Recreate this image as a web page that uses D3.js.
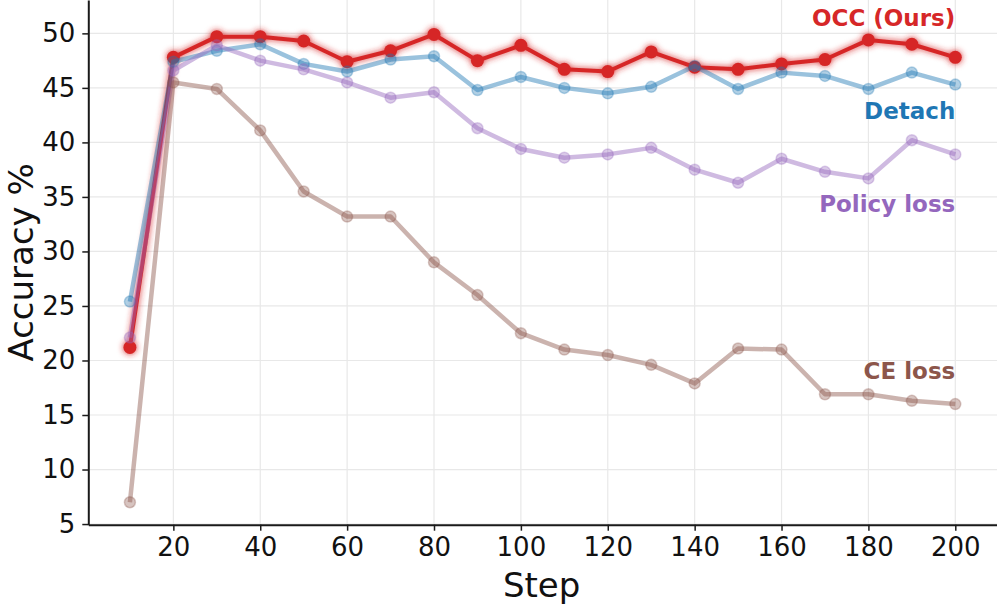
<!DOCTYPE html>
<html>
<head>
<meta charset="utf-8">
<script src="https://cdn.jsdelivr.net/npm/d3@7"></script>
<style>
  body { margin: 0; background: #fff; }
  svg { display: block; font-family: "DejaVu Sans", sans-serif; }
</style>
</head>
<body>
<div id="chart"></div>
<script>
// Data
const steps = [10, 20, 30, 40, 50, 60, 70, 80, 90, 100, 110, 120, 130, 140, 150, 160, 170, 180, 190, 200];
const occ = [21.2, 47.8, 49.7, 49.7, 49.3, 47.4, 48.4, 49.9, 47.5, 48.9, 46.7, 46.5, 48.3, 46.9, 46.7, 47.2, 47.6, 49.4, 49.0, 47.8];
const detach = [25.4, 47.4, 48.4, 49.0, 47.2, 46.5, 47.6, 47.9, 44.8, 46.0, 45.0, 44.5, 45.1, 47.0, 44.9, 46.4, 46.1, 44.9, 46.4, 45.3];
const policyLoss = [22.1, 46.6, 48.9, 47.5, 46.7, 45.5, 44.1, 44.6, 41.3, 39.4, 38.6, 38.9, 39.5, 37.5, 36.3, 38.5, 37.3, 36.7, 40.2, 38.9];
const ceLoss = [7.0, 45.5, 44.9, 41.1, 35.5, 33.2, 33.2, 29.0, 26.0, 22.5, 21.0, 20.5, 19.6, 17.9, 21.1, 21.0, 16.9, 16.9, 16.3, 16.0];
const xTicks = [20, 40, 60, 80, 100, 120, 140, 160, 180, 200];
const yTicks = [5, 10, 15, 20, 25, 30, 35, 40, 45, 50];
const seriesNames = ["OCC (Ours)", "Detach", "Policy loss", "CE loss"];

const width = 997;
const height = 606;
const margin = { top: 0, right: 0, bottom: 81.3, left: 88.3 };

const x = d3.scaleLinear()
  .domain([0.42, 209.6])
  .range([margin.left, width - margin.right]);

const y = d3.scaleLinear()
  .domain([4.94, 53.06])
  .range([height - margin.bottom, margin.top]);

const svg = d3.select("#chart")
  .append("svg")
  .attr("width", width)
  .attr("height", height);

// glow for the main series
const defs = svg.append("defs");
const glow = defs.append("filter")
  .attr("id", "glow")
  .attr("x", "-10%").attr("y", "-10%")
  .attr("width", "120%").attr("height", "120%");
glow.append("feGaussianBlur")
  .attr("in", "SourceGraphic")
  .attr("stdDeviation", 3)
  .attr("result", "blur");
const merge = glow.append("feMerge");
merge.append("feMergeNode").attr("in", "blur");
merge.append("feMergeNode").attr("in", "SourceGraphic");

// grid
const plotBottom = height - margin.bottom;
svg.append("g")
  .selectAll("line")
  .data(xTicks)
  .join("line")
  .attr("x1", d => x(d)).attr("x2", d => x(d))
  .attr("y1", margin.top).attr("y2", plotBottom)
  .attr("stroke", "#e8e8e8").attr("stroke-width", 1.2);

svg.append("g")
  .selectAll("line")
  .data(yTicks)
  .join("line")
  .attr("x1", margin.left).attr("x2", width - margin.right)
  .attr("y1", d => y(d)).attr("y2", d => y(d))
  .attr("stroke", "#e8e8e8").attr("stroke-width", 1.2);

// series
const line = d3.line()
  .x((d, i) => x(steps[i]))
  .y(d => y(d));

const faded = [
  { values: detach, color: "#1f77b4" },
  { values: policyLoss, color: "#9467bd" },
  { values: ceLoss, color: "#8c564b" }
];

// main series first
const occG = svg.append("g").attr("filter", "url(#glow)");
occG.append("path")
  .datum(occ)
  .attr("d", line)
  .attr("fill", "none")
  .attr("stroke", "#d62728")
  .attr("stroke-width", 4)
  .attr("stroke-linejoin", "round");
occG.selectAll("circle")
  .data(occ)
  .join("circle")
  .attr("cx", (d, i) => x(steps[i]))
  .attr("cy", d => y(d))
  .attr("r", 6.5)
  .attr("fill", "#d62728");

faded.forEach(s => {
  const g = svg.append("g");
  g.append("path")
    .datum(s.values)
    .attr("d", line)
    .attr("fill", "none")
    .attr("stroke", s.color)
    .attr("stroke-opacity", 0.45)
    .attr("stroke-width", 4.5)
    .attr("stroke-linejoin", "round");
  g.selectAll("circle")
    .data(s.values)
    .join("circle")
    .attr("cx", (d, i) => x(steps[i]))
    .attr("cy", d => y(d))
    .attr("r", 5.5)
    .attr("fill", s.color)
    .attr("fill-opacity", 0.35)
    .attr("stroke", s.color)
    .attr("stroke-opacity", 0.3)
    .attr("stroke-width", 1.5);
});

// axes
const xAxis = svg.append("g")
  .attr("transform", `translate(0, ${plotBottom})`)
  .call(d3.axisBottom(x).tickValues(xTicks).tickSize(6).tickPadding(7).tickSizeOuter(0));

const yAxis = svg.append("g")
  .attr("transform", `translate(${margin.left}, 0)`)
  .call(d3.axisLeft(y).tickValues(yTicks).tickSize(6).tickPadding(7).tickSizeOuter(0));

[xAxis, yAxis].forEach(a => {
  a.select(".domain").attr("stroke", "#1a1a1a").attr("stroke-width", 2);
  a.selectAll(".tick line").attr("stroke", "#1a1a1a").attr("stroke-width", 1.5);
  a.selectAll(".tick text")
    .attr("fill", "#111")
    .style("font-size", "26px")
    .style("font-family", "DejaVu Sans, sans-serif");
});

// axis titles
svg.append("text")
  .attr("x", (margin.left + width - margin.right) / 2 - 1)
  .attr("y", 597)
  .attr("text-anchor", "middle")
  .style("font-size", "34px")
  .attr("fill", "#111")
  .text("Step");

svg.append("text")
  .attr("transform", `translate(33, ${plotBottom / 2}) rotate(-90)`)
  .attr("text-anchor", "middle")
  .style("font-size", "34px")
  .attr("fill", "#111")
  .text("Accuracy %");

// series labels at the right end
const labelColors = ["#d62728", "#1f77b4", "#9467bd", "#8c564b"];
const labelLevels = [50.67, 42.13, 33.6, 18.3];
svg.append("g")
  .selectAll("text")
  .data(seriesNames)
  .join("text")
  .attr("x", x(200))
  .attr("y", (d, i) => y(labelLevels[i]))
  .attr("text-anchor", "end")
  .style("font-size", "23px")
  .style("font-weight", "bold")
  .attr("fill", (d, i) => labelColors[i])
  .text(d => d);
</script>
</body>
</html>
